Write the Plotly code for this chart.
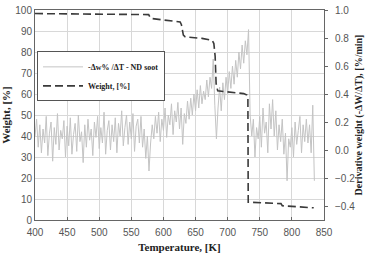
import plotly.graph_objects as go

# Temperature grid for the derivative signal [K]
temp_start = 400.0
temp_step = 2.5
deriv_values = [
    0.10, 0.22, 0.02, 0.18, -0.02, 0.15, 0.05, 0.24, -0.04, 0.12,
    0.20, -0.08, 0.16, 0.04, 0.26, 0.00, 0.14, 0.08, 0.21, -0.05,
    0.17, 0.03, 0.23, -0.03, 0.11, 0.19, -0.01, 0.25, 0.06, 0.13,
    -0.09, 0.18, 0.02, 0.22, 0.07, 0.15, -0.04, 0.20, 0.09, 0.24,
    0.01, 0.16, 0.05, 0.27, -0.03, 0.14, 0.21, 0.00, 0.18, 0.06,
    0.23, -0.02, 0.19, 0.10, 0.28, 0.03, 0.16, 0.25, 0.04, 0.20,
    0.08, 0.26, -0.01, 0.17, 0.22, 0.05, 0.24, 0.02, 0.15, -0.06,
    0.10, -0.15, 0.05, 0.18, 0.08, 0.24, 0.12, 0.27, 0.06, 0.22,
    0.14, 0.30, 0.09, 0.25, 0.18, 0.33, 0.11, 0.28, 0.20, 0.34,
    0.15, 0.30, 0.04, 0.26, 0.19, 0.35, 0.22, 0.37, 0.25, 0.40,
    0.28, 0.43, 0.30, 0.46, 0.33, 0.42, 0.36, 0.50, 0.38, 0.52,
    0.44, 0.65, 0.32, 0.08, 0.30, 0.45, 0.28, 0.48, 0.36, 0.52,
    0.40, 0.56, 0.44, 0.60, 0.47, 0.64, 0.52, 0.70, 0.58, 0.75,
    0.62, 0.78, 0.68, 0.86, 0.25, 0.10, 0.22, -0.05, 0.16, 0.08,
    0.24, 0.02, 0.30, 0.12, 0.20, -0.02, 0.33, 0.15, 0.36, 0.10,
    0.28, 0.00, 0.18, 0.06, 0.22, -0.03, 0.12, -0.22, 0.08, 0.02,
    0.16, -0.05, 0.20, 0.04, 0.14, 0.24, -0.02, 0.18, 0.06, 0.22,
    0.05, 0.18, -0.02, 0.32, -0.22,
]
deriv_temp = [temp_start + temp_step * i for i in range(len(deriv_values))]

weight_temp = [400, 450, 500, 550, 577, 580, 600, 620, 626, 628, 629.5, 631, 634,
               660, 676, 678.5, 680.5, 682, 684.5, 700, 725, 730, 731.5, 732,
               760, 783, 785, 810, 834]
weight_values = [98.3, 98.2, 98.0, 97.9, 97.8, 96.0, 95.3, 94.8, 94.3, 93.0, 90.0, 88.0, 87.2,
                 86.5, 85.5, 84.0, 78.0, 65.0, 61.5, 61.0, 60.2, 59.5, 58.0, 8.5,
                 8.0, 7.8, 6.8, 6.3, 5.8]

x_ticks = [400, 450, 500, 550, 600, 650, 700, 750, 800, 850]
left_ticks = [0, 10, 20, 30, 40, 50, 60, 70, 80, 90, 100]
right_ticks = [-0.4, -0.2, 0.0, 0.2, 0.4, 0.6, 0.8, 1.0]

serif = "Liberation Serif"
sans = "Liberation Sans"

fig = go.Figure()
fig.add_trace(go.Scatter(
    x=deriv_temp, y=deriv_values, mode="lines", yaxis="y",
    name="<b>-Δw% /ΔT - ND soot</b>",
    line=dict(color="#c4c4c4", width=1),
))
fig.add_trace(go.Scatter(
    x=weight_temp, y=weight_values, mode="lines", yaxis="y2",
    name="<b>Weight, [%]</b>",
    line=dict(color="#3a3a3a", width=1.6, dash="8px,4px"),
))

fig.update_layout(
    width=365, height=253,
    margin=dict(l=35, r=41, t=10, b=33, autoexpand=False),
    paper_bgcolor="white", plot_bgcolor="white",
    showlegend=True,
    legend=dict(
        x=0.007, y=0.803, xanchor="left", yanchor="top",
        bgcolor="white", bordercolor="#555", borderwidth=1,
        font=dict(family=serif, size=8, color="#222"),
        itemwidth=40, tracegroupgap=0,
    ),
    xaxis=dict(
        range=[400, 850], tickvals=x_ticks, automargin=False,
        showgrid=True, gridcolor="#d8d8d8", gridwidth=1,
        showline=True, linecolor="#666", linewidth=1, mirror=True,
        ticks="inside", ticklen=3, tickcolor="#666",
        ticklabelstandoff=3,
        tickfont=dict(family=sans, size=10, color="#555"),
        zeroline=False,
        title=dict(text="<b>Temperature, [K]</b>", font=dict(family=serif, size=11, color="#222"), standoff=8),
    ),
    yaxis=dict(
        side="right", range=[-0.5, 1.0], tickvals=right_ticks, tickformat=".1f",
        automargin=False,
        showgrid=False, zeroline=False,
        showline=True, linecolor="#666", linewidth=1,
        ticks="outside", ticklen=3, tickcolor="#666",
        ticklabelstandoff=5,
        tickfont=dict(family=sans, size=10, color="#555"),
        title=dict(text="<b>Derivative weight (-ΔW/ΔT), [%/min]</b>", font=dict(family=serif, size=10, color="#222"), standoff=4),
    ),
    yaxis2=dict(
        side="left", overlaying="y", range=[0, 100], tickvals=left_ticks,
        automargin=False,
        showgrid=True, gridcolor="#d8d8d8", gridwidth=1, zeroline=False,
        showline=True, linecolor="#666", linewidth=1,
        ticks="", tickfont=dict(family=sans, size=10, color="#555"),
        title=dict(text="<b>Weight, [%]</b>", font=dict(family=serif, size=11, color="#222"), standoff=4),
    ),
)

fig.write_html("out.html")
